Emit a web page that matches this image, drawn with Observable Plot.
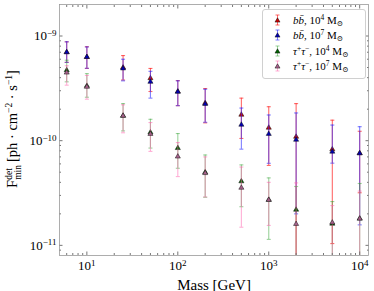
<!DOCTYPE html>
<html><head><meta charset="utf-8">
<script src="https://cdn.jsdelivr.net/npm/d3@7"></script>
<script src="https://cdn.jsdelivr.net/npm/@observablehq/plot@0.6"></script>
<style>
body{margin:0;background:#fff;}
#wrap{position:relative;width:374px;height:291px;font-family:"Liberation Serif","DejaVu Serif",serif;}
.legend{position:absolute;left:262px;top:9px;width:102px;height:68px;border:1px solid #d0d0d0;border-radius:3px;background:rgba(255,255,255,0.85);font-size:11px;color:#000;}
.row{position:absolute;left:0;height:14px;display:flex;align-items:center;white-space:nowrap;}
.row svg{width:30px;height:14px;flex:none;}
.row sup{font-size:7.5px;vertical-align:4px;line-height:0;}
.row sub{font-size:7.5px;vertical-align:-2px;line-height:0;}
</style></head><body><div id="wrap"></div><script>
// ---- data ----
const masses = [6, 10, 25, 50, 100, 200, 500, 1000, 2000, 5000, 10000];

const bb4Val = [7.0e-10, 6.3e-10, 5.0e-10, 3.95e-10, 2.95e-10, 2.29e-10, 1.77e-10, 1.33e-10, 1.09e-10, 8.26e-11, 7.6e-11];
const bb4Lo  = [5.6e-10, 4.9e-10, 3.8e-10, 2.95e-10, 2.16e-10, 1.48e-10, 1.05e-10, 5.8e-11, 5e-12, 1.04e-11, 3.18e-11];
const bb4Hi  = [8.8e-10, 7.9e-10, 6.5e-10, 4.9e-10, 3.75e-10, 3.15e-10, 2.55e-10, 2.11e-10, 2.26e-10, 1.57e-10, 1.23e-10];

const bb7Val = [7.0e-10, 6.3e-10, 4.9e-10, 3.65e-10, 2.93e-10, 2.24e-10, 1.42e-10, 1.16e-10, 1.02e-10, 7.85e-11, 7.57e-11];
const bb7Lo  = [5.6e-10, 4.92e-10, 3.73e-10, 2.55e-10, 2.16e-10, 1.5e-10, 8.3e-11, 6.08e-11, 2.0e-11, 6.1e-11, 1.57e-11];
const bb7Hi  = [8.8e-10, 7.86e-10, 6.0e-10, 4.6e-10, 3.73e-10, 3.1e-10, 2.05e-10, 1.76e-10, 1.84e-10, 1.41e-10, 1.36e-10];

const tt4Val = [4.71e-10, 3.34e-10, 1.73e-10, 1.2e-10, 8.5e-11, 4.99e-11, 4.09e-11, 2.72e-11, 2.19e-11, 1.61e-11, 1.8e-11];
const tt4Lo  = [3.65e-10, 2.6e-10, 1.24e-10, 8.5e-11, 5.45e-11, 2.88e-11, 2.34e-11, 1.14e-11, 5e-12, 5e-12, 5e-12];
const tt4Hi  = [5.87e-10, 4.37e-10, 2.26e-10, 1.6e-10, 1.17e-10, 7.3e-11, 5.87e-11, 4.41e-11, 3.65e-11, 2.62e-11, 3.9e-11];

const tt7Val = [4.47e-10, 3.27e-10, 1.73e-10, 1.16e-10, 7.05e-11, 4.9e-11, 3.55e-11, 2.72e-11, 1.6e-11, 1.65e-11, 1.8e-11];
const tt7Lo  = [3.39e-10, 2.49e-10, 1.19e-10, 7.9e-11, 4.54e-11, 2.9e-11, 1.49e-11, 1.55e-11, 5e-12, 5e-12, 5e-12];
const tt7Hi  = [5.2e-10, 4.2e-10, 2.2e-10, 1.49e-10, 9.6e-11, 7.0e-11, 5.6e-11, 4.0e-11, 3.95e-11, 2.4e-11, 3.3e-11];

const xMajor = [10, 100, 1000, 10000];
const xMinor = [6,7,8,9,20,30,40,50,60,70,80,90,200,300,400,500,600,700,800,900,2000,3000,4000,5000,6000,7000,8000,9000];
const yMajor = [1e-11, 1e-10, 1e-9];
const yMinor = [9e-12,2e-11,3e-11,4e-11,5e-11,6e-11,7e-11,8e-11,9e-11,2e-10,3e-10,4e-10,5e-10,6e-10,7e-10,8e-10,9e-10];

const series = [
  {val: bb4Val, lo: bb4Lo, hi: bb4Hi, bar: "#ff2a2a", barOp: 0.7, mk: "#cc0000"},
  {val: bb7Val, lo: bb7Lo, hi: bb7Hi, bar: "#2a2aff", barOp: 0.6, mk: "#0000b4"},
  {val: tt4Val, lo: tt4Lo, hi: tt4Hi, bar: "#3aa63a", barOp: 0.5, mk: "#006400"},
  {val: tt7Val, lo: tt7Lo, hi: tt7Hi, bar: "#ff5fae", barOp: 0.5, mk: "#a8628c"}
];
const legendHTML = [
  '<i>b</i><i>b̄</i>, 10<sup>4</sup> M<sub>⊙</sub>',
  '<i>b</i><i>b̄</i>, 10<sup>7</sup> M<sub>⊙</sub>',
  '<i>τ</i><sup>+</sup><i>τ</i><sup>−</sup>, 10<sup>4</sup> M<sub>⊙</sub>',
  '<i>τ</i><sup>+</sup><i>τ</i><sup>−</sup>, 10<sup>7</sup> M<sub>⊙</sub>'
];

const cap = {draw(ctx, size) { const w = Math.sqrt(size / Math.PI); ctx.moveTo(-w, 0); ctx.lineTo(w, 0); }};

const marks = [];
series.forEach(s => {
  const rows = masses.map((m, i) => ({mass: m, v: s.val[i], lo: s.lo[i], hi: s.hi[i]}));
  marks.push(
    Plot.ruleX(rows, {x: "mass", y1: "lo", y2: "hi", stroke: s.bar, strokeOpacity: s.barOp, strokeWidth: 1.1, clip: true}),
    Plot.dot(rows, {x: "mass", y: "lo", symbol: cap, r: 2, fill: "none", stroke: s.bar, strokeOpacity: s.barOp, strokeWidth: 1.1, clip: true}),
    Plot.dot(rows, {x: "mass", y: "hi", symbol: cap, r: 2, fill: "none", stroke: s.bar, strokeOpacity: s.barOp, strokeWidth: 1.1, clip: true}),
    Plot.dot(rows, {x: "mass", y: "v", symbol: "triangle", r: 1.9, fill: s.mk, stroke: "#111", strokeWidth: 0.5, clip: true})
  );
});

const fmt = d => "10^" + Math.round(Math.log10(d));
const tickColor = "#777";
marks.push(
  Plot.axisX({anchor: "bottom", ticks: xMajor, tickSize: 0, tickPadding: 5, tickFormat: fmt, fontSize: 13, label: "Mass [GeV]", labelAnchor: "center", labelArrow: "none", labelOffset: 34}),
  Plot.axisX({anchor: "bottom", ticks: xMajor, tickSize: -3.5, fill: "none", stroke: tickColor}),
  Plot.axisX({anchor: "bottom", ticks: xMinor, tickSize: -2, fill: "none", stroke: tickColor}),
  Plot.axisX({anchor: "top", ticks: xMajor, tickSize: -3.5, fill: "none", stroke: tickColor}),
  Plot.axisX({anchor: "top", ticks: xMinor, tickSize: -2, fill: "none", stroke: tickColor}),
  Plot.axisY({anchor: "left", ticks: yMajor, tickSize: 0, tickPadding: 3, tickFormat: fmt, fontSize: 13, label: null}),
  Plot.axisY({anchor: "left", ticks: yMajor, tickSize: -3.5, fill: "none", stroke: tickColor}),
  Plot.axisY({anchor: "left", ticks: yMinor, tickSize: -2, fill: "none", stroke: tickColor}),
  Plot.axisY({anchor: "right", ticks: yMajor, tickSize: -3.5, fill: "none", stroke: tickColor}),
  Plot.axisY({anchor: "right", ticks: yMinor, tickSize: -2, fill: "none", stroke: tickColor}),
  Plot.frame({stroke: "#999", strokeWidth: 0.8})
);

const chart = Plot.plot({
  width: 374, height: 291,
  marginLeft: 59, marginRight: 6, marginTop: 4, marginBottom: 36,
  x: {type: "log", domain: [5, 12500]},
  y: {type: "log", domain: [8e-12, 2e-9]},
  style: {fontFamily: '"Liberation Serif","DejaVu Serif",serif', fontSize: "12px", color: "#000", background: "white", overflow: "visible"},
  marks
});
const wrap = document.getElementById("wrap");
wrap.appendChild(chart);

// superscripts in tick labels
const svg = d3.select(chart);
svg.selectAll('g[aria-label$="tick label"] text').each(function() {
  const t = d3.select(this);
  const s = t.text();
  if (!s.includes("^")) return;
  const [b, e] = s.split("^");
  t.text(null);
  t.append("tspan").text(b);
  t.append("tspan").attr("dy", "-0.45em").attr("font-size", "9px").text(e.replace("-", "−"));
});
svg.selectAll('g[aria-label="x-axis label"] text').attr("font-size", "15px");

// y axis label with sub/superscripts
const yl = svg.append("text")
  .attr("transform", "translate(17,129) rotate(-90)")
  .attr("text-anchor", "middle")
  .attr("font-size", "14.5px")
  .attr("font-family", '"Liberation Serif","DejaVu Serif",serif');
yl.append("tspan").text("F");
const sup = yl.append("tspan").attr("font-size", "9.5px").attr("dy", "-5").text("det");
const sub = yl.append("tspan").attr("font-size", "9.5px").attr("dy", "9").text("min");
const wSup = sup.node().getComputedTextLength();
const wSub = sub.node().getComputedTextLength();
sub.attr("dx", -wSup);
yl.append("tspan").attr("dy", "-4").attr("dx", Math.max(0, wSup - wSub) + 3).text("[ph · cm");
yl.append("tspan").attr("font-size", "9.5px").attr("dy", "-5").text("−2");
yl.append("tspan").attr("dy", "5").text(" · s");
yl.append("tspan").attr("font-size", "9.5px").attr("dy", "-5").text("−1");
yl.append("tspan").attr("dy", "5").text("]");

// legend
const lg = document.createElement("div");
lg.className = "legend";
series.forEach((s, i) => {
  const r = document.createElement("div");
  r.className = "row";
  r.style.top = (3 + i * 15.3) + "px";
  r.innerHTML = `<svg viewBox="0 0 30 14"><line x1="14.5" x2="14.5" y1="2" y2="12" stroke="${s.bar}" stroke-opacity="${s.barOp}"/><line x1="12.5" x2="16.5" y1="2" y2="2" stroke="${s.bar}" stroke-opacity="${s.barOp}"/><line x1="12.5" x2="16.5" y1="12" y2="12" stroke="${s.bar}" stroke-opacity="${s.barOp}"/><path d="M14.5,4.8L17,9.1L12,9.1Z" fill="${s.mk}" stroke="#111" stroke-width="0.5"/></svg><span>${legendHTML[i]}</span>`;
  lg.appendChild(r);
});
wrap.appendChild(lg);
</script></body></html>
